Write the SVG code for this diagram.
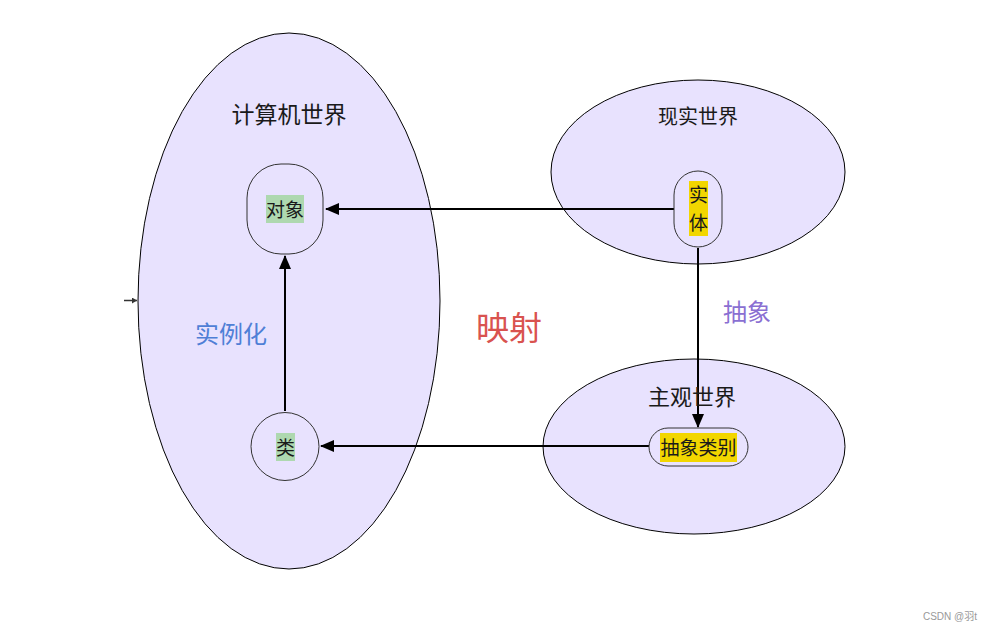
<svg xmlns="http://www.w3.org/2000/svg" width="993" height="630" viewBox="0 0 993 630">
<style>
.world{fill:#e8e2fe;stroke:#000;stroke-width:1}
.node{fill:#e8e2fe;stroke:#333;stroke-width:1}
.t{font-family:"Noto Sans CJK SC","Noto Sans",sans-serif;fill:#1a1a1a}
.edge{stroke:#000;stroke-width:2;fill:none}
.hlg{fill:#aed8b0}
.hly{fill:#f2d600}
</style>
<defs>
<marker id="ah" markerWidth="14" markerHeight="12" refX="13" refY="6" orient="auto" markerUnits="userSpaceOnUse">
<path d="M0,0 L14,6 L0,12 Z" fill="#000"/>
</marker>
<marker id="ahs" markerWidth="5" markerHeight="6" refX="5" refY="3" orient="auto" markerUnits="userSpaceOnUse">
<path d="M0,0 L5,3 L0,6 Z" fill="#333"/>
</marker>
</defs>
<rect width="993" height="630" fill="#fff"/>
<g id="computer-world">
<ellipse class="world" cx="289" cy="301" rx="151" ry="268"/>
<text class="t" x="289" y="123" font-size="23" text-anchor="middle">计算机世界</text>
</g>
<g id="real-world">
<ellipse class="world" cx="698" cy="172" rx="147" ry="92"/>
<text class="t" x="698" y="124" font-size="20" text-anchor="middle">现实世界</text>
</g>
<g id="subjective-world">
<ellipse class="world" cx="694" cy="446.5" rx="151" ry="87.5"/>
</g>
<g id="connectors">
<line class="edge" x1="674" y1="209" x2="326" y2="209" marker-end="url(#ah)"/>
<line class="edge" x1="698" y1="248" x2="698" y2="427" marker-end="url(#ah)"/>
<line class="edge" x1="649" y1="446" x2="321" y2="446" marker-end="url(#ah)"/>
<line class="edge" x1="285" y1="411" x2="285" y2="256" marker-end="url(#ah)"/>
<line x1="124" y1="300.5" x2="137" y2="300.5" stroke="#333" stroke-width="1.5" marker-end="url(#ahs)"/>
</g>
<g id="subjective-label">
<text class="t" x="692" y="405" font-size="22" text-anchor="middle">主观世界</text>
</g>
<g id="object">
<rect class="node" x="247" y="164" width="76" height="90" rx="34" ry="34"/>
<rect class="hlg" x="266" y="195" width="38" height="28"/>
<text class="t" x="285" y="217" font-size="19" text-anchor="middle">对象</text>
</g>
<g id="entity">
<rect class="node" x="674" y="171" width="48" height="76" rx="24" ry="24"/>
<rect class="hly" x="689" y="181" width="19" height="55"/>
<text class="t" x="698.5" y="202" font-size="19" text-anchor="middle">实</text>
<text class="t" x="698.5" y="230" font-size="19" text-anchor="middle">体</text>
</g>
<g id="abstract-class">
<rect class="node" x="649" y="428" width="99" height="38" rx="19" ry="19"/>
<rect class="hly" x="660" y="433" width="77" height="29"/>
<text class="t" x="698.5" y="455" font-size="19" text-anchor="middle">抽象类别</text>
</g>
<g id="class">
<circle class="node" cx="285" cy="446.5" r="34"/>
<rect class="hlg" x="276" y="433" width="19" height="28"/>
<text class="t" x="285.5" y="455" font-size="19" text-anchor="middle">类</text>
</g>
<g id="labels">
<text class="t" x="231" y="343" font-size="24" text-anchor="middle" style="fill:#4f7fd6">实例化</text>
<text class="t" x="509" y="340" font-size="33" text-anchor="middle" style="fill:#d9534f">映射</text>
<text class="t" x="747" y="321" font-size="24" text-anchor="middle" style="fill:#8a6fd2">抽象</text>
<text x="977" y="620" font-size="10" text-anchor="end" font-family="Liberation Sans,Noto Sans CJK SC,sans-serif" fill="#999">CSDN @羽t</text>
</g>
</svg>
